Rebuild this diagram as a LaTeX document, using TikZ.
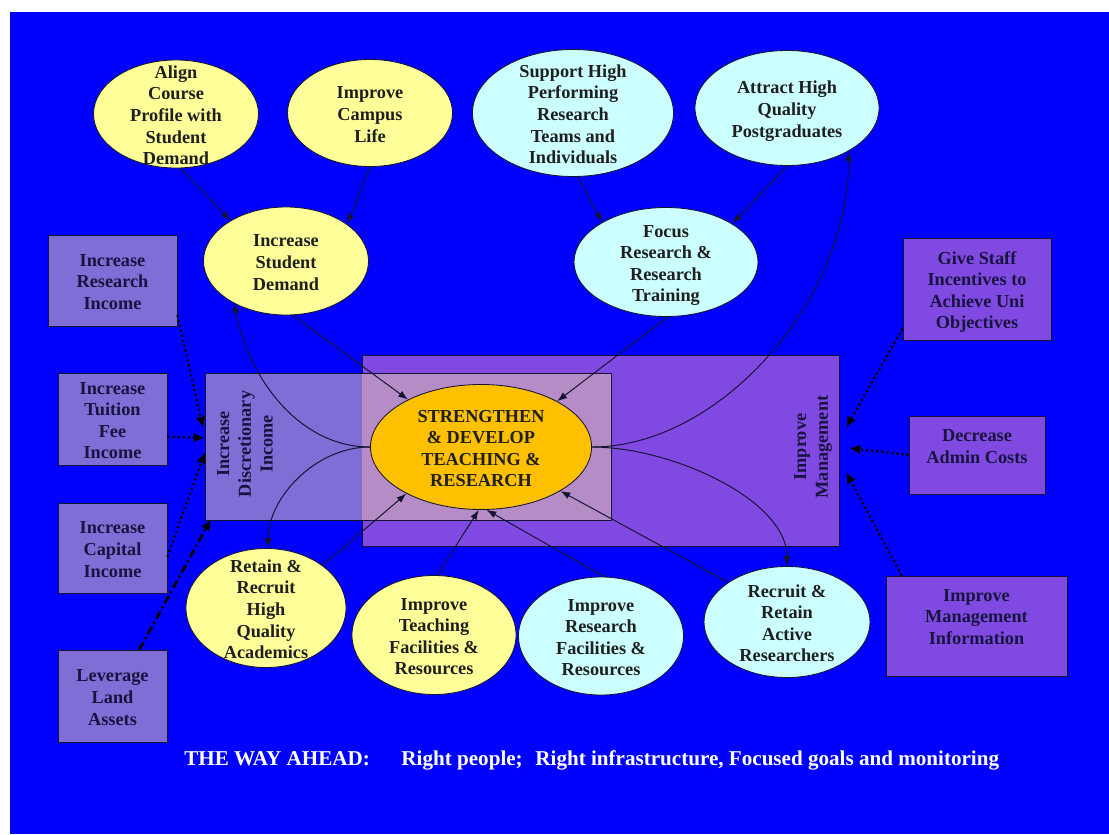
\documentclass[tikz,border=0pt]{standalone}
\usepackage{fontspec}
\setmainfont{Liberation Serif}
\usetikzlibrary{shapes.geometric,arrows.meta}

\definecolor{bgblue}{RGB}{0,0,255}
\definecolor{paleyellow}{RGB}{255,255,153}
\definecolor{palecyan}{RGB}{204,255,255}
\definecolor{coregold}{RGB}{255,192,0}
\definecolor{slatebox}{RGB}{126,110,214}
\definecolor{violetbox}{RGB}{128,74,226}
\definecolor{overlapbox}{RGB}{182,140,198}
\definecolor{inkline}{RGB}{20,20,50}
\definecolor{boxtext}{RGB}{24,20,64}

% text lines that do not stretch the shape round them
\newcommand{\stack}[2][0pt]{\smash{\raisebox{\dimexpr-.25em-2pt+#1\relax}{\begin{tabular}{@{}c@{}}#2\end{tabular}}}}

\begin{document}
\begin{tikzpicture}[x=0.025cm,y=-0.025cm,
    every node/.style={font=\fontsize{13}{15.4}\selectfont\bfseries},
    goal/.style={ellipse,draw=inkline,line width=0.6pt,inner sep=0pt,text=black!88},
    ygoal/.style={goal,fill=paleyellow},
    cgoal/.style={goal,fill=palecyan},
    lbox/.style={rectangle,draw=inkline,line width=0.6pt,fill=slatebox,inner sep=0pt,text=boxtext},
    rbox/.style={lbox,fill=violetbox},
    conn/.style={draw=inkline,line width=0.7pt,-{Latex[length=7pt,width=5pt]}},
    feed/.style={draw=black,line width=1.6pt,dotted,-{Latex[length=8pt,width=7pt]}},
    lever/.style={draw=black,line width=2pt,dash pattern=on 6pt off 2.5pt on 1.5pt off 2.5pt,-{Latex[length=8pt,width=7pt]}}]

    \useasboundingbox (0,0) rectangle (1109,834);
    \fill[white] (0,0) rectangle (1109,834);
    \fill[bgblue] (10,12) rectangle (1109,834);

    % the two areas round the core
    \filldraw[fill=violetbox,draw=inkline,line width=0.6pt] (362,355) rectangle (839,546);
    \fill[slatebox] (205,373) rectangle (611,520);
    \fill[overlapbox] (362,373) rectangle (611,520);
    \draw[inkline,line width=0.6pt] (205,373) rectangle (611,520);
    \node[rotate=90,align=center,text=boxtext] (disclbl) at (245,444) {Increase\\Discretionary\\Income};
    \node[rotate=90,align=center,text=boxtext] (mgmtlbl) at (813,447) {Improve\\Management};

    % goals
    \node[ygoal,minimum width=4.125cm,minimum height=2.7cm] (align) at (176,114) {\stack{Align\\Course\\Profile with\\Student\\Demand}};
    \node[ygoal,minimum width=4.125cm,minimum height=2.675cm] (campus) at (370,113) {\stack{Improve\\Campus\\Life}};
    \node[cgoal,minimum width=5.025cm,minimum height=3.175cm] (support) at (573,113) {\stack{Support High\\Performing\\Research\\Teams and\\Individuals}};
    \node[cgoal,minimum width=4.6cm,minimum height=2.875cm] (attract) at (787,108) {\stack{Attract High\\Quality\\Postgraduates}};
    \node[ygoal,minimum width=4.125cm,minimum height=2.7cm] (demand) at (286,261) {\stack{Increase\\Student\\Demand}};
    \node[cgoal,minimum width=4.6cm,minimum height=2.725cm] (focus) at (666,262) {\stack{Focus\\Research \&\\Research\\Training}};
    \node[goal,fill=coregold,minimum width=5.525cm,minimum height=3.125cm] (core) at (481,447) {\stack{STRENGTHEN\\\& DEVELOP\\TEACHING \&\\RESEARCH}};
    \node[ygoal,minimum width=4cm,minimum height=2.975cm] (retain) at (266,608) {\stack{Retain \&\\Recruit\\High\\Quality\\Academics}};
    \node[ygoal,minimum width=4.1cm,minimum height=2.975cm] (teach) at (434,635) {\stack{Improve\\Teaching\\Facilities \&\\Resources}};
    \node[cgoal,minimum width=4.125cm,minimum height=2.95cm] (resfac) at (601,636) {\stack{Improve\\Research\\Facilities \&\\Resources}};
    \node[cgoal,minimum width=4.15cm,minimum height=2.775cm] (recruit) at (787,622) {\stack{Recruit \&\\Retain\\Active\\Researchers}};

    % income and management boxes
    \node[lbox,minimum width=3.225cm,minimum height=2.275cm] (resinc) at (112.5,280.5) {\stack{Increase\\Research\\Income}};
    \node[lbox,minimum width=2.725cm,minimum height=2.3cm] (tuition) at (112.5,419) {\stack{Increase\\Tuition\\Fee\\Income}};
    \node[lbox,minimum width=2.725cm,minimum height=2.25cm] (capital) at (112.5,548) {\stack{Increase\\Capital\\Income}};
    \node[lbox,minimum width=2.725cm,minimum height=2.3cm] (land) at (112.5,696) {\stack{Leverage\\Land\\Assets}};
    \node[rbox,minimum width=3.7cm,minimum height=2.55cm] (staff) at (977,289) {\stack{Give Staff\\Incentives to\\Achieve Uni\\Objectives}};
    \node[rbox,minimum width=3.4cm,minimum height=1.95cm] (admin) at (977,455) {\stack[7pt]{Decrease\\Admin Costs}};
    \node[rbox,minimum width=4.525cm,minimum height=2.5cm] (mginfo) at (976.5,626) {\stack[7.5pt]{Improve\\Management\\Information}};

    \coordinate (dA) at (203,428);
    \coordinate (dB) at (205,438);
    \coordinate (dC) at (205,452);
    \coordinate (dD) at (211,519);
    \coordinate (mA) at (846,428);
    \coordinate (mB) at (849,448);
    \coordinate (mC) at (846,472);

    % straight links
    \draw[conn] (align.-85) -- (demand.144);
    \draw[conn] (campus.south) -- (demand.31);
    \draw[conn] (support.-86) -- (focus.148);
    \draw[conn] (attract.south) -- (focus.30);
    \draw[conn] (demand.-83) -- (core.147);
    \draw[conn] (focus.-88) -- (core.31);
    \draw[conn] (retain.37) -- (core.-148);
    \draw[conn] (teach.87) -- (core.-92);
    \draw[conn] (resfac.87) -- (core.-85);
    \draw[conn] (recruit.146) -- (core.-29);

    % curved links out of the core
    \draw[conn] (core.west) .. controls +(-70,0) and +(16,77) .. (demand.-141);
    \draw[conn] (core.west) .. controls +(-55,0) and +(0,-50) .. (retain.88);
    \draw[conn] (core.east) .. controls +(128,0) and +(0,149) .. (attract.-35);
    \draw[conn] (core.east) .. controls +(80,0) and +(0,-66) .. (recruit.north);

    % feeds into the two areas
    \draw[feed] (resinc.-28) -- (dA);
    \draw[feed] (tuition.-18) -- (dB);
    \draw[feed] (capital.-9) -- (dC);
    \draw[lever] (land.60) -- (dD);
    \draw[feed] (staff.-152) -- (mA);
    \draw[feed] (admin.west) -- (mB);
    \draw[feed] (mginfo.146) -- (mC);

    \node[anchor=west,inner sep=0pt,text=white,font=\fontsize{15}{18}\selectfont\bfseries] (motto) at (184,760)
        {THE WAY AHEAD:\hspace{1.5em}Right people;\hspace{.6em}Right infrastructure, Focused goals and monitoring};
\end{tikzpicture}
\end{document}
